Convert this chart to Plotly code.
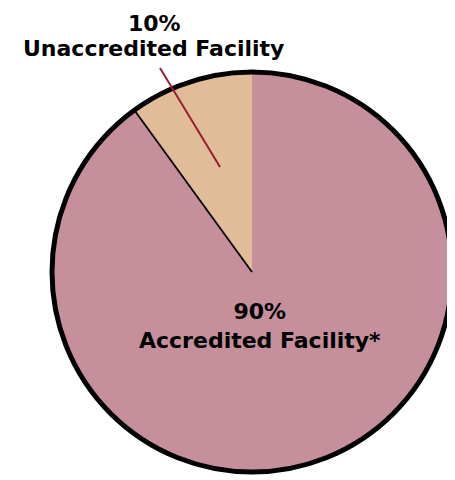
import math

import plotly.graph_objects as go

# Данные
labels = ["Accredited Facility*", "Unaccredited Facility"]
values = [90, 10]
colors = ["#C58F9C", "#E0BD98"]

W, H = 455, 480
OFF = 8  # отступ body в странице
CX, CY, R = 252, 272, 200


def px(x):
    return (x - OFF) / W


def py(y):
    return 1 - (y - OFF) / H


FONT = dict(family="DejaVu Sans", size=22, color="black")

fig = go.Figure()
fig.add_trace(go.Pie(
    labels=labels, values=values, sort=False,
    direction="clockwise", rotation=0,
    marker=dict(colors=colors, line=dict(width=0)),
    textinfo="none", hoverinfo="skip",
    domain=dict(x=[px(CX - R), px(CX + R)], y=[py(CY + R), py(CY - R)]),
))

# Граница малого сектора (слева)
theta = 2 * math.pi * values[1] / sum(values)
ex, ey = CX - R * math.sin(theta), CY - R * math.cos(theta)
shapes = [
    dict(type="line", xref="paper", yref="paper",
         x0=px(CX), y0=py(CY), x1=px(ex), y1=py(ey),
         line=dict(color="black", width=1.8)),
    dict(type="circle", xref="paper", yref="paper",
         x0=px(CX - R), x1=px(CX + R), y0=py(CY + R), y1=py(CY - R),
         line=dict(color="black", width=5)),
    # выноска
    dict(type="line", xref="paper", yref="paper",
         x0=px(160), y0=py(68), x1=px(220), y1=py(167),
         line=dict(color="#9B1B30", width=2)),
]

pct = [f"{v / sum(values) * 100:.0f}%" for v in values]
annotations = [
    dict(x=px(154), y=py(23), xref="paper", yref="paper",
         text=f"<b>{pct[1]}</b>", showarrow=False,
         font=FONT, xanchor="center", yanchor="middle"),
    dict(x=px(153), y=py(48), xref="paper", yref="paper",
         text=f"<b>{labels[1]}</b>", showarrow=False,
         font=FONT, xanchor="center", yanchor="middle"),
    dict(x=px(260), y=py(326), xref="paper", yref="paper",
         text=f"<b>{pct[0]}<br>{labels[0]}</b>", showarrow=False,
         font=FONT, xanchor="center", yanchor="middle"),
]

fig.update_layout(
    width=W, height=H, margin=dict(l=0, r=0, t=0, b=0),
    paper_bgcolor="white", plot_bgcolor="white", showlegend=False,
    shapes=shapes, annotations=annotations,
)

fig.write_html("out.html")
